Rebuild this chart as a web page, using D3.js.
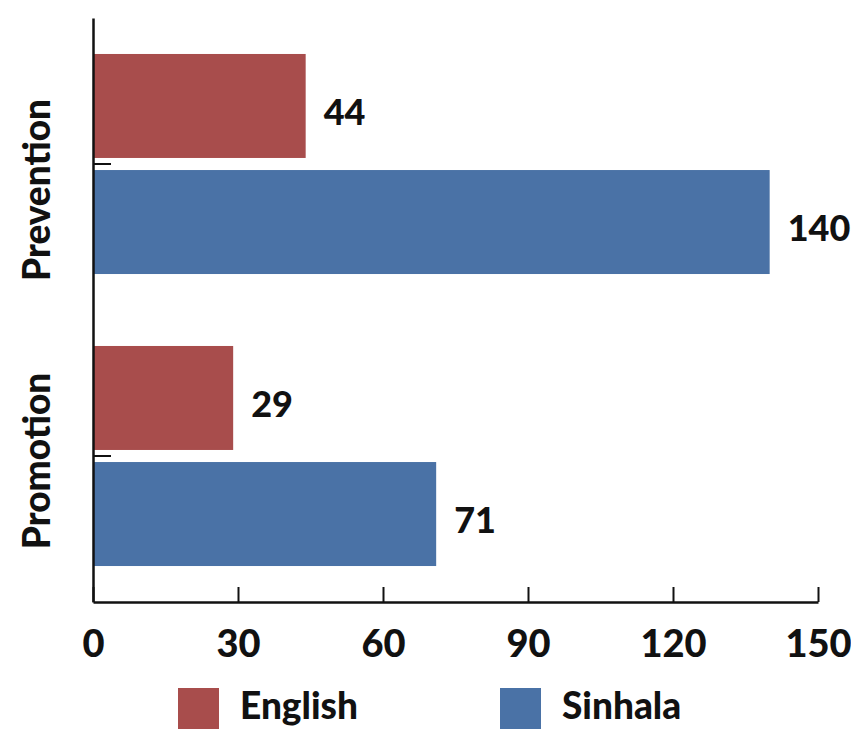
<!DOCTYPE html>
<html><head><meta charset="utf-8">
<script src="https://cdn.jsdelivr.net/npm/d3@7"></script>
<style>body{margin:0;background:#fff}text{font-family:Lato,"Open Sans",sans-serif;font-weight:900;fill:#111}</style>
</head><body><svg id="c" width="851" height="731"></svg>
<script>
const categories = ["Prevention", "Promotion"];
const seriesNames = ["English", "Sinhala"];
const english = [44, 29];
const sinhala = [140, 71];
const xTicks = [0, 30, 60, 90, 120, 150];
const colors = ["#A84D4C", "#4A72A6"];

const svg = d3.select("#c");
const x = d3.scaleLinear().domain([0, 150]).range([93, 818]);
const y = d3.scaleBand().domain(categories).range([18, 602]).paddingInner(0).paddingOuter(0);
const inner = d3.scaleBand().domain(seriesNames).range([0, y.bandwidth()]).paddingInner(0.104).paddingOuter(0.31);

const data = [];
categories.forEach((c, i) => {
  data.push({cat: c, s: "English", v: english[i], col: colors[0]});
  data.push({cat: c, s: "Sinhala", v: sinhala[i], col: colors[1]});
});

svg.selectAll("rect.bar").data(data).enter().append("rect")
  .attr("x", x(0)).attr("y", d => y(d.cat) + inner(d.s))
  .attr("width", d => x(d.v) - x(0)).attr("height", inner.bandwidth())
  .attr("fill", d => d.col);

svg.selectAll("text.val").data(data).enter().append("text")
  .attr("x", d => x(d.v) + 18).attr("y", d => y(d.cat) + inner(d.s) + inner.bandwidth() / 2 + 6)
  .attr("dy", "0.36em").attr("font-size", 36).text(d => d.v);

// x axis
const xa = svg.append("g").attr("transform", "translate(0,602)")
  .call(d3.axisBottom(x).tickValues(xTicks).tickSizeInner(-15).tickSizeOuter(0).tickPadding(28));
xa.select(".domain").attr("stroke", "#111").attr("stroke-width", 2.5);
xa.selectAll(".tick line").attr("stroke", "#111").attr("stroke-width", 2);
xa.selectAll(".tick text").attr("font-size", 38).attr("fill", "#111").style("font-family", "Lato").style("font-weight", 900);

// y axis
const ya = svg.append("g").attr("transform", "translate(93,0)")
  .call(d3.axisLeft(y).tickSizeInner(-18).tickSizeOuter(0).tickFormat(""));
ya.select(".domain").attr("stroke", "#111").attr("stroke-width", 2.5);
ya.selectAll(".tick line").attr("stroke", "#111").attr("stroke-width", 2);

svg.selectAll("text.cat").data(categories).enter().append("text")
  .attr("transform", (d, i) => `translate(50,${y(d) + y.bandwidth() / 2 + (i === 0 ? 26 : 5)}) rotate(-90)`)
  .attr("text-anchor", "middle").attr("font-size", 37).text(d => d);

// legend
const lg = svg.append("g");
const lx = [178, 500];
seriesNames.forEach((s, i) => {
  lg.append("rect").attr("x", lx[i]).attr("y", 688).attr("width", 41).attr("height", 41).attr("fill", colors[i]);
  lg.append("text").attr("x", lx[i] + 62).attr("y", 706).attr("dy", "0.36em").attr("font-size", 37).text(s);
});
</script></body></html>
